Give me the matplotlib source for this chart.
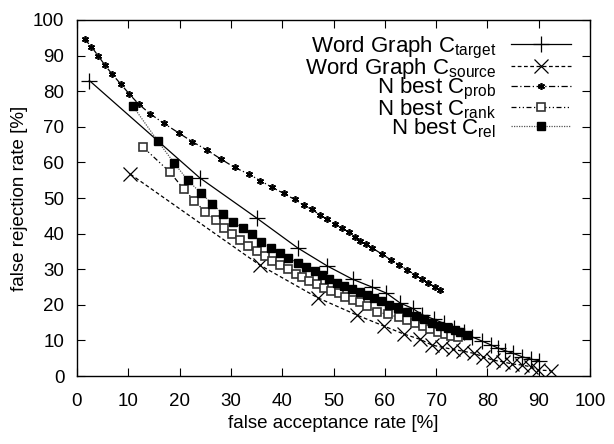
import matplotlib
matplotlib.use('Agg')
import matplotlib.pyplot as plt

plt.rcParams.update({
    'font.family': ['Liberation Sans', 'DejaVu Sans'],
    'font.size': 13.5,
    'mathtext.fontset': 'custom',
    'mathtext.rm': 'Liberation Sans',
    'mathtext.it': 'Liberation Sans',
})

# Word Graph C_target
target_x = [2.4, 23.9, 35.0, 43.0, 48.8, 53.7, 57.5, 60.3, 63.0, 65.4, 67.3, 69.5, 71.5,
            73.5, 75.5, 77.0, 79.0, 80.6, 82.0, 83.5, 85.0, 86.8, 88.4, 90.0]
target_y = [83.0, 55.7, 44.4, 36.0, 30.9, 27.2, 25.0, 23.3, 20.5, 19.0, 17.2, 16.0, 14.8,
            13.5, 12.3, 11.0, 9.8, 8.8, 7.9, 7.1, 6.4, 5.4, 4.8, 4.3]

# Word Graph C_source
source_x = [10.4, 35.6, 46.9, 54.6, 59.9, 63.7, 66.9, 69.2, 71.2, 73.2, 75.2, 77.3, 79.2,
            81.0, 83.0, 84.8, 86.8, 88.4, 89.9, 92.3]
source_y = [56.7, 31.2, 22.0, 17.1, 14.0, 11.8, 10.3, 8.7, 8.1, 7.5, 7.0, 6.4, 5.4,
            4.5, 4.0, 3.4, 3.1, 2.6, 1.7, 1.5]

# N best C_prob
prob_x = [1.5, 2.8, 4.1, 5.4, 6.9, 8.6, 10.2, 12.0, 14.3, 16.9, 19.8, 22.5, 25.3, 28.1,
          30.7, 33.5, 35.7, 38.0, 40.3, 42.4, 44.2, 45.8, 47.3, 48.8, 50.3, 51.7, 53.0,
          54.1, 55.2, 56.4, 57.5, 59.5, 61.2, 62.8, 64.4, 65.9, 67.2, 68.5, 69.7, 70.8]
prob_y = [94.6, 92.5, 90.0, 87.4, 84.7, 81.9, 79.2, 76.4, 73.6, 71.0, 68.3, 65.8, 63.5, 60.9,
          58.6, 56.7, 54.9, 53.0, 51.3, 49.6, 48.0, 46.8, 45.3, 44.0, 42.7, 41.5, 40.4,
          39.1, 38.0, 37.0, 36.0, 34.2, 32.6, 31.2, 29.8, 28.4, 27.2, 26.1, 25.1, 24.2]

# N best C_rank
rank_x = [12.8, 18.1, 20.8, 22.9, 24.9, 27.0, 28.6, 30.2, 31.8, 33.4, 35.0, 36.6, 38.0,
          39.5, 41.1, 42.6, 43.9, 45.3, 46.8, 48.2, 49.5, 51.0, 52.3, 53.8, 55.2, 56.6,
          58.5, 60.7, 62.7, 64.3, 65.8, 67.4, 68.9, 70.3, 71.8, 72.9, 74.2]
rank_y = [64.4, 57.3, 52.5, 49.2, 46.2, 43.8, 41.7, 39.9, 38.2, 36.6, 35.1, 33.7, 32.4,
          31.2, 30.0, 28.8, 27.7, 26.7, 25.8, 24.8, 24.0, 23.2, 22.3, 21.5, 20.9, 19.6,
          18.0, 17.3, 16.5, 15.7, 14.8, 14.0, 13.2, 12.4, 11.8, 11.3, 10.9]

# N best C_rel
rel_x = [10.9, 15.7, 19.0, 21.6, 24.2, 26.4, 28.4, 30.5, 32.4, 34.1, 35.9, 37.8, 39.5,
         41.2, 43.0, 44.7, 46.3, 47.8, 49.2, 50.7, 52.1, 53.6, 55.1, 56.5, 57.8, 59.2,
         60.8, 62.5, 64.3, 66.0, 67.6, 69.2, 70.8, 72.3, 73.6, 74.7, 76.0]
rel_y = [75.8, 66.1, 59.7, 55.0, 51.3, 48.3, 45.6, 43.3, 41.5, 39.8, 37.7, 36.0, 34.6,
         33.2, 31.8, 30.7, 29.6, 28.4, 27.2, 26.2, 25.3, 24.4, 23.6, 22.8, 21.9, 21.0,
         20.0, 19.0, 18.0, 17.0, 16.0, 15.0, 14.2, 13.6, 12.9, 12.4, 11.5]

fig = plt.figure(figsize=(6.14, 4.44), dpi=100)
ax = fig.add_axes([0.1254, 0.153, 0.8356, 0.802])

ax.plot(target_x, target_y, color='black', lw=0.9, ls='-', marker='+', ms=12, mew=0.9,
        label=r'Word Graph C$_{\mathrm{target}}$')
ax.plot(source_x, source_y, color='black', lw=0.9, ls=(0, (3, 2)), marker='x', ms=10, mew=0.9,
        label=r'Word Graph C$_{\mathrm{source}}$')
ax.plot(prob_x, prob_y, color='black', lw=0.9, ls=(0, (5, 2, 1, 2)), marker=(6, 2, 0), ms=5,
        mew=1.2, label=r'N best C$_{\mathrm{prob}}$')
ax.plot(rank_x, rank_y, color='black', lw=0.9, ls=(0, (4, 2, 1, 2, 1, 2)), marker='s', ms=5.5,
        mfc='white', mec='#333333', mew=1.2, label=r'N best C$_{\mathrm{rank}}$')
ax.plot(rel_x, rel_y, color='#555555', lw=0.9, ls=(0, (1, 1)), marker='s', ms=6,
        mfc='black', mec='black', label=r'N best C$_{\mathrm{rel}}$')

ax.set_xlim(0, 100)
ax.set_ylim(0, 100)
ax.set_xticks(range(0, 101, 10))
ax.set_yticks(range(0, 101, 10))
ax.tick_params(direction='in', length=6, width=0.8, top=True, right=True, pad=9)
ax.tick_params(axis='x', pad=12)
for s in ax.spines.values():
    s.set_linewidth(1.0)

ax.set_xlabel('false acceptance rate [%]', labelpad=4)
ax.set_ylabel('false rejection rate [%]', labelpad=4)

leg = ax.legend(loc='upper right', bbox_to_anchor=(0.967, 0.965), markerfirst=False,
                frameon=False, handlelength=2.7, handletextpad=0.65, labelspacing=-0.22,
                borderaxespad=0, borderpad=0.1, fontsize=16)

plt.savefig('out.png', dpi=100, facecolor='white')
plt.close()
